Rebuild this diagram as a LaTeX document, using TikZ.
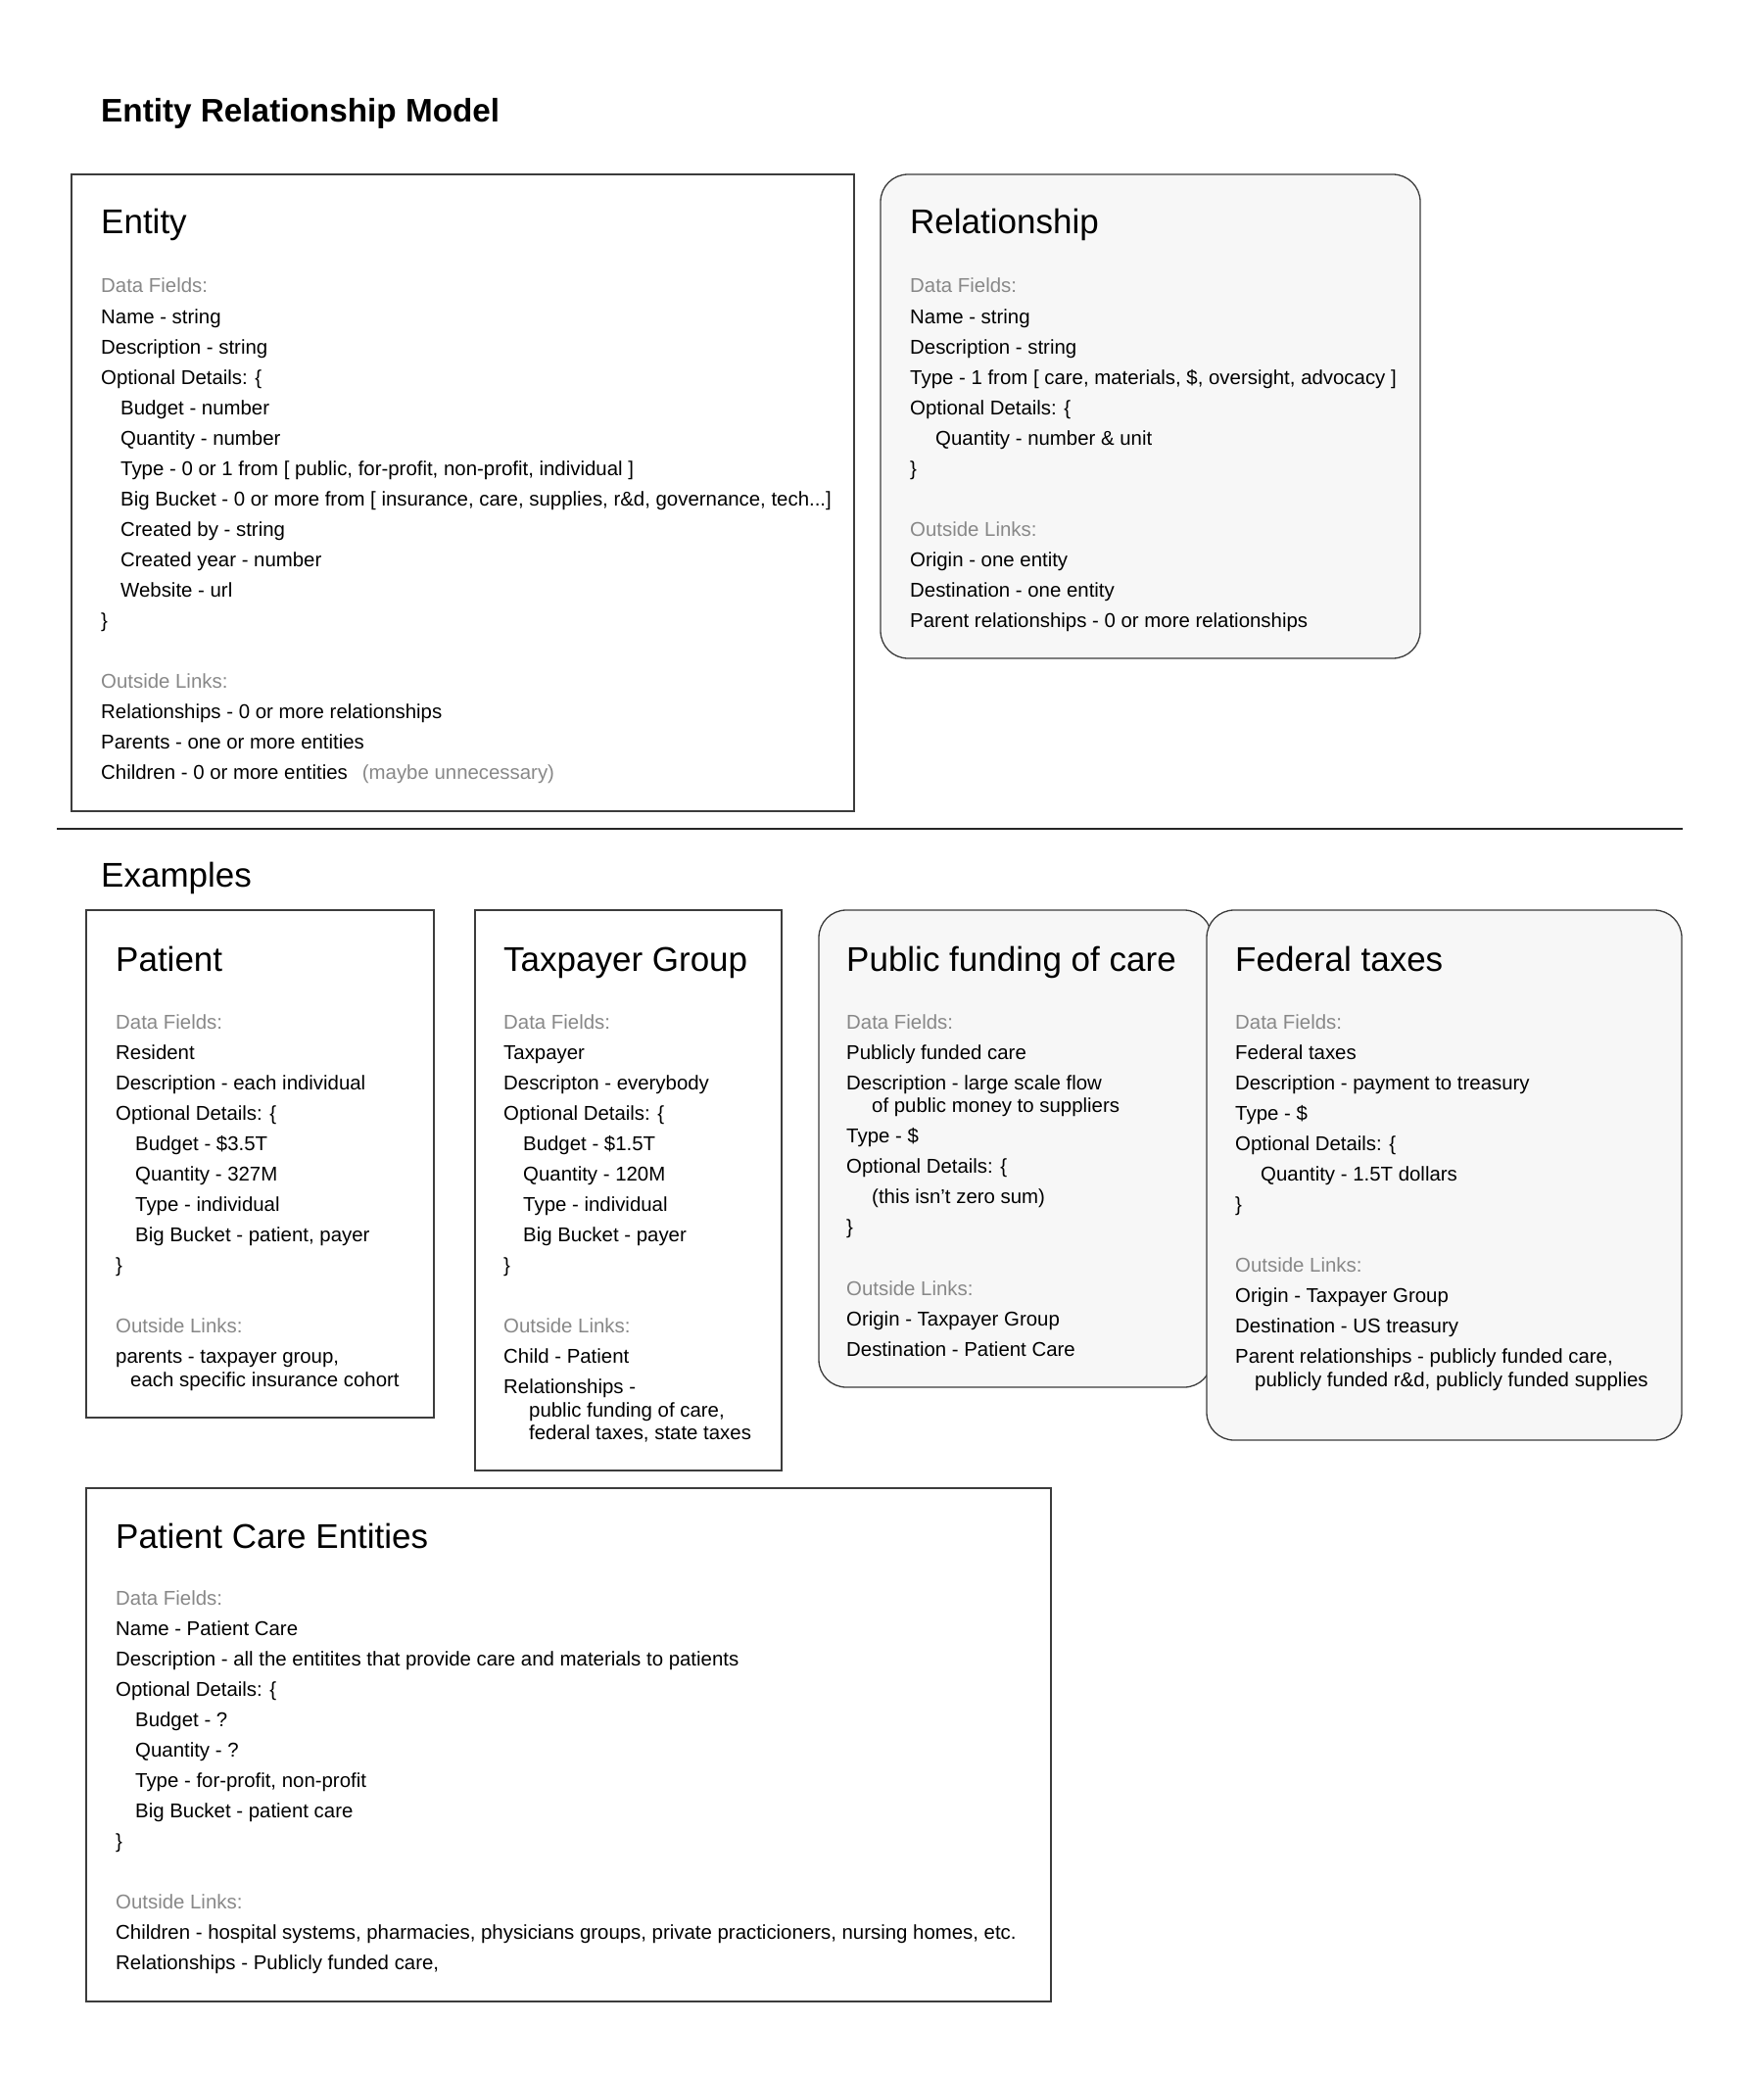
\documentclass[tikz,border=0pt]{standalone}
\usepackage{fontspec}
\setmainfont{Liberation Sans}
\definecolor{gtext}{HTML}{888888}
\definecolor{edge}{HTML}{3C3C3C}
\definecolor{rfill}{HTML}{F7F7F7}
\newcommand\xBody{\fontsize{20.4}{31.05}\selectfont}
\newcommand\xHead{\fontsize{35}{40}\selectfont}
\newcommand\xLn[1]{\hbox{#1}}
\newcommand\xIn[2][20pt]{\hbox{\hskip#1\relax #2}}
\newcommand\xGr[1]{\hbox{\color{gtext}#1}}
\newcommand\xWr[2][20pt]{\vskip-7.4pt\hbox{\hskip#1\relax #2}}
\newcommand\xBl{\hbox{}}
\tikzset{
  sqbox/.style={draw=edge, line width=1.3pt, fill=white},
  rbox/.style={draw=edge, line width=1.3pt, fill=rfill, rounded corners=28pt},
  headtxt/.style={anchor=base west, inner sep=0pt, font=\xHead},
  bodytxt/.style={anchor=base west, inner sep=0pt, font=\xBody},
}
\begin{document}
\begin{tikzpicture}[x=1pt,y=-1pt]
\useasboundingbox (0,0) rectangle (1800,2116);
\fill[white] (0,0) rectangle (1800,2116);

\node[anchor=base west, inner sep=0pt, font=\fontsize{33.3}{40}\selectfont\bfseries] (title) at (103,125) {Entity Relationship Model};

% Entity
\draw[sqbox] (73,178) rectangle (872,828);
\node[headtxt] (entT) at (103,239) {Entity};
\node[bodytxt] (entB) at (103,299) {\vtop{%
\xGr{Data Fields:}
\xLn{Name - string}
\xLn{Description - string}
\xLn{Optional Details: \{}
\xIn{Budget - number}
\xIn{Quantity - number}
\xIn{Type - 0 or 1 from [ public, for-profit, non-profit, individual ]}
\xIn{Big Bucket - 0 or more from [ insurance, care, supplies, r\&d, governance, tech...]}
\xIn{Created by - string}
\xIn{Created year - number}
\xIn{Website - url}
\xLn{\}}
\xBl
\xGr{Outside Links:}
\xLn{Relationships - 0 or more relationships}
\xLn{Parents - one or more entities}
\xLn{Children - 0 or more entities\hskip15pt{\color{gtext}(maybe unnecessary)}}
}};

% Relationship
\draw[rbox] (899,178) rectangle (1450,672);
\node[headtxt] (relT) at (929,239) {Relationship};
\node[bodytxt] (relB) at (929,299) {\vtop{%
\xGr{Data Fields:}
\xLn{Name - string}
\xLn{Description - string}
\xLn{Type - 1 from [ care, materials, \$, oversight, advocacy ]}
\xLn{Optional Details: \{}
\xIn[26pt]{Quantity - number \& unit}
\xLn{\}}
\xBl
\xGr{Outside Links:}
\xLn{Origin - one entity}
\xLn{Destination - one entity}
\xLn{Parent relationships - 0 or more relationships}
}};

% separator
\coordinate (sepL) at (58,846);
\coordinate (sepR) at (1718,846);
\draw[line width=1.3pt, black!85] (sepL) -- (sepR);

\node[headtxt] (exT) at (103,905) {Examples};

% Patient
\draw[sqbox] (88,929) rectangle (443,1447);
\node[headtxt] (patT) at (118,991) {Patient};
\node[bodytxt] (patB) at (118,1050) {\vtop{%
\xGr{Data Fields:}
\xLn{Resident}
\xLn{Description - each individual}
\xLn{Optional Details: \{}
\xIn{Budget - \$3.5T}
\xIn{Quantity - 327M}
\xIn{Type - individual}
\xIn{Big Bucket - patient, payer}
\xLn{\}}
\xBl
\xGr{Outside Links:}
\xLn{parents - taxpayer group,}
\xWr[15pt]{each specific insurance cohort}
}};

% Taxpayer Group
\draw[sqbox] (485,929) rectangle (798,1501);
\node[headtxt] (taxT) at (514,991) {Taxpayer Group};
\node[bodytxt] (taxB) at (514,1050) {\vtop{%
\xGr{Data Fields:}
\xLn{Taxpayer}
\xLn{Descripton - everybody}
\xLn{Optional Details: \{}
\xIn{Budget - \$1.5T}
\xIn{Quantity - 120M}
\xIn{Type - individual}
\xIn{Big Bucket - payer}
\xLn{\}}
\xBl
\xGr{Outside Links:}
\xLn{Child - Patient}
\xLn{Relationships -}
\xWr[26pt]{public funding of care,}
\xWr[26pt]{federal taxes, state taxes}
}};

% Public funding of care
\draw[rbox] (836,929) rectangle (1237,1416);
\node[headtxt] (pubT) at (864,991) {Public funding of care};
\node[bodytxt] (pubB) at (864,1050) {\vtop{%
\xGr{Data Fields:}
\xLn{Publicly funded care}
\xLn{Description - large scale flow}
\xWr[26pt]{of public money to suppliers}
\xLn{Type - \$}
\xLn{Optional Details: \{}
\xIn[26pt]{(this isn’t zero sum)}
\xLn{\}}
\xBl
\xGr{Outside Links:}
\xLn{Origin - Taxpayer Group}
\xLn{Destination - Patient Care}
}};

% Federal taxes
\draw[rbox] (1232,929) rectangle (1717,1470);
\node[headtxt] (fedT) at (1261,991) {Federal taxes};
\node[bodytxt] (fedB) at (1261,1050) {\vtop{%
\xGr{Data Fields:}
\xLn{Federal taxes}
\xLn{Description - payment to treasury}
\xLn{Type - \$}
\xLn{Optional Details: \{}
\xIn[26pt]{Quantity - 1.5T dollars}
\xLn{\}}
\xBl
\xGr{Outside Links:}
\xLn{Origin - Taxpayer Group}
\xLn{Destination - US treasury}
\xLn{Parent relationships - publicly funded care,}
\xWr[20pt]{publicly funded r\&d, publicly funded supplies}
}};

% Patient Care Entities
\draw[sqbox] (88,1519) rectangle (1073,2043);
\node[headtxt] (pceT) at (118,1580) {Patient Care Entities};
\node[bodytxt] (pceB) at (118,1638) {\vtop{%
\xGr{Data Fields:}
\xLn{Name - Patient Care}
\xLn{Description - all the entitites that provide care and materials to patients}
\xLn{Optional Details: \{}
\xIn{Budget - ?}
\xIn{Quantity - ?}
\xIn{Type - for-profit, non-profit}
\xIn{Big Bucket - patient care}
\xLn{\}}
\xBl
\xGr{Outside Links:}
\xLn{Children - hospital systems, pharmacies, physicians groups, private practicioners, nursing homes, etc.}
\xLn{Relationships - Publicly funded care,}
}};
\end{tikzpicture}
\end{document}
